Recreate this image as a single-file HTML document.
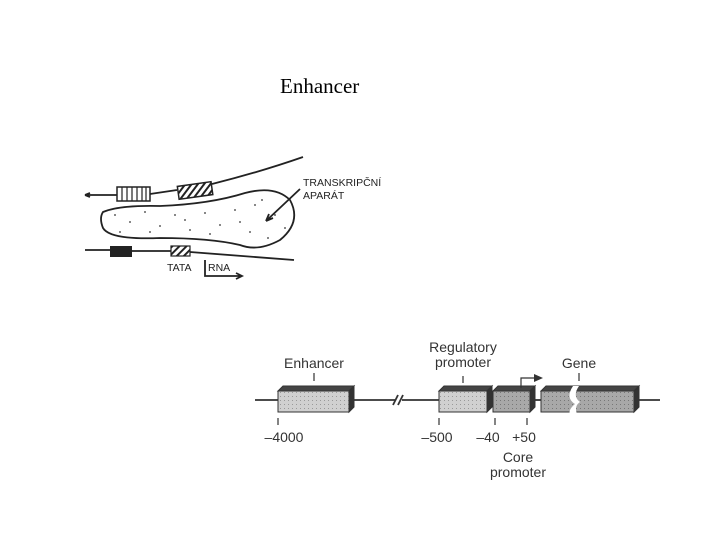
<!DOCTYPE html>
<html><head><style>body{margin:0;background:#fff}svg{display:block}</style></head><body>
<svg width="720" height="540" viewBox="0 0 720 540" xmlns="http://www.w3.org/2000/svg">
<defs>
<pattern id="dots" width="4" height="4" patternUnits="userSpaceOnUse"><rect width="4" height="4" fill="#d0d0d0"/><rect width="1" height="1" fill="#999"/></pattern>
<pattern id="dots2" width="4" height="4" patternUnits="userSpaceOnUse"><rect width="4" height="4" fill="#a8a8a8"/><rect width="1" height="1" fill="#777"/></pattern>
<pattern id="hatch" width="5" height="5" patternUnits="userSpaceOnUse" patternTransform="rotate(45)"><rect width="5" height="5" fill="#fff"/><rect width="2" height="5" fill="#222"/></pattern>
</defs>
<text x="280" y="93" font-family="Liberation Serif" font-size="21">Enhancer</text>
<g stroke="#222" stroke-width="1.8" fill="none">
<path d="M85 195 L117 195 M150 194 L177 190 M212 184 Q260 172 303 157"/>
<path d="M85 195 l5 -2 M85 195 l5 2"/>
<path d="M103 212 Q120 205 160 206 Q210 204 245 193 Q275 185 290 200 Q302 222 280 240 Q258 252 240 245 Q210 238 160 238 Q110 240 103 228 Q99 218 103 212Z"/>
<path d="M85 250 L110 250 M132 251 L171 251 M190 252 L294 260"/>
<path d="M205 260 L205 276 L242 276 M236 273 l6 3 l-6 3"/>
<path d="M300 189 L266 221 M266 221 l3 -7 M266 221 l7 -3"/>
</g>
<rect x="117" y="187" width="33" height="14" fill="#fff" stroke="#222" stroke-width="1.5"/>
<g stroke="#222" stroke-width="1.2"><line x1="122" y1="187" x2="122" y2="201"/><line x1="127" y1="187" x2="127" y2="201"/><line x1="132" y1="187" x2="132" y2="201"/><line x1="137" y1="187" x2="137" y2="201"/><line x1="142" y1="187" x2="142" y2="201"/><line x1="146" y1="187" x2="146" y2="201"/></g>
<rect x="178" y="184" width="34" height="13" fill="url(#hatch)" stroke="#222" stroke-width="1.5" transform="rotate(-8 195 190)"/>
<rect x="110" y="246" width="22" height="11" fill="#222"/>
<rect x="171" y="246" width="19" height="10" fill="url(#hatch)" stroke="#222" stroke-width="1.2"/>
<g fill="#333">
<circle cx="115" cy="215" r=".9"/><circle cx="130" cy="222" r=".9"/><circle cx="145" cy="212" r=".9"/><circle cx="160" cy="226" r=".9"/><circle cx="175" cy="215" r=".9"/><circle cx="190" cy="230" r=".9"/><circle cx="205" cy="213" r=".9"/><circle cx="220" cy="225" r=".9"/><circle cx="235" cy="210" r=".9"/><circle cx="250" cy="232" r=".9"/><circle cx="262" cy="200" r=".9"/><circle cx="275" cy="215" r=".9"/><circle cx="285" cy="228" r=".9"/><circle cx="120" cy="232" r=".9"/><circle cx="150" cy="232" r=".9"/><circle cx="185" cy="220" r=".9"/><circle cx="240" cy="222" r=".9"/><circle cx="268" cy="238" r=".9"/><circle cx="210" cy="234" r=".9"/><circle cx="255" cy="205" r=".9"/>
</g>
<g font-family="Liberation Sans" font-size="10.5" fill="#222">
<text x="303" y="186">TRANSKRIPČNÍ</text><text x="303" y="199">APARÁT</text>
<text x="167" y="271">TATA</text><text x="208" y="271">RNA</text>
</g>
<g stroke="#333" stroke-width="1.8" fill="none">
<line x1="255" y1="400" x2="278" y2="400"/><line x1="349" y1="400" x2="395" y2="400"/><line x1="402" y1="400" x2="439" y2="400"/>
<line x1="487" y1="400" x2="493" y2="400"/><line x1="530" y1="400" x2="541" y2="400"/><line x1="634" y1="400" x2="660" y2="400"/>
<line x1="393" y1="405" x2="398" y2="395"/><line x1="398" y1="405" x2="403" y2="395"/>
</g>
<g stroke="#333" stroke-width="1">
<polygon points="278,391 283,386 354,386 349,391" fill="#444"/><polygon points="349,391 354,386 354,407 349,412" fill="#333"/><rect x="278" y="391" width="71" height="21" fill="url(#dots)"/>
<polygon points="439,391 444,386 492,386 487,391" fill="#444"/><polygon points="487,391 492,386 492,407 487,412" fill="#333"/><rect x="439" y="391" width="48" height="21" fill="url(#dots)"/>
<polygon points="493,391 498,386 535,386 530,391" fill="#444"/><polygon points="530,391 535,386 535,407 530,412" fill="#333"/><rect x="493" y="391" width="37" height="21" fill="url(#dots2)"/>
<polygon points="541,391 546,386 639,386 634,391" fill="#444"/><polygon points="634,391 639,386 639,407 634,412" fill="#333"/><rect x="541" y="391" width="93" height="21" fill="url(#dots2)"/>
</g>
<path d="M573 386 Q565 398 575 404 Q568 410 570 414 L577 414 Q574 406 580 402 Q572 396 579 386Z" fill="#fff"/>
<g stroke="#333" stroke-width="1.2" fill="none">
<line x1="314" y1="373" x2="314" y2="381"/><line x1="463" y1="376" x2="463" y2="383"/><line x1="579" y1="373" x2="579" y2="381"/>
<path d="M521 388 L521 378 L535 378"/>
<line x1="278" y1="418" x2="278" y2="425"/><line x1="439" y1="418" x2="439" y2="425"/><line x1="495" y1="418" x2="495" y2="425"/><line x1="527" y1="418" x2="527" y2="425"/>
</g>
<polygon points="534,374 543,378 534,382" fill="#333"/>
<g font-family="Liberation Sans" font-size="14" fill="#333" text-anchor="middle">
<text x="314" y="368">Enhancer</text>
<text x="463" y="352">Regulatory</text><text x="463" y="367">promoter</text>
<text x="579" y="368">Gene</text>
<text x="284" y="442">–4000</text><text x="437" y="442">–500</text><text x="488" y="442">–40</text><text x="524" y="442">+50</text>
<text x="518" y="462">Core</text><text x="518" y="477">promoter</text>
</g>
</svg>
</body></html>
